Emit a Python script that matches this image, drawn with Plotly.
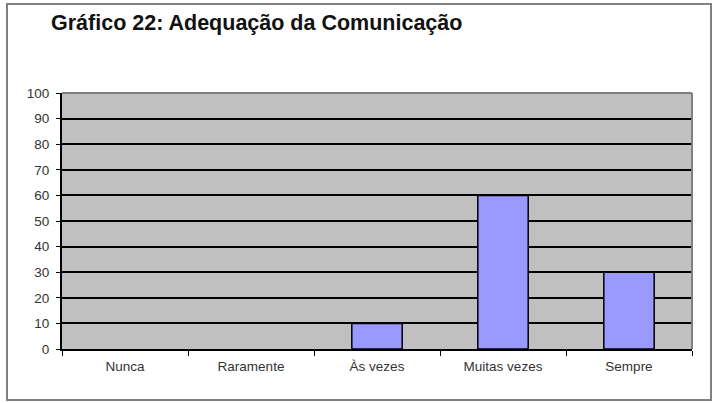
import plotly.graph_objects as go

categories = ["Nunca", "Raramente", "Às vezes", "Muitas vezes", "Sempre"]
values = [0, 0, 10, 60, 30]
y_ticks = [0, 10, 20, 30, 40, 50, 60, 70, 80, 90, 100]

W, H = 719, 403
L, R, T, B = 62, 692, 93, 349
pw, ph = R - L, B - T

fig = go.Figure()
fig.add_trace(go.Bar(
    x=categories, y=values,
    marker=dict(color="#9999FF",
                line=dict(color="#000000", width=[1.5 if v > 0 else 0 for v in values])),
    width=0.4,
))

def px_x(v):
    return (v - L) / pw

def px_y(v):
    return (B - v) / ph

fig.update_layout(
    width=W, height=H,
    margin=dict(l=L, r=W - R, t=T, b=H - B),
    paper_bgcolor="white",
    plot_bgcolor="#C0C0C0",
    showlegend=False,
    font=dict(family="Liberation Sans, Arial, sans-serif", size=13, color="#000000"),
    title=dict(
        text="<b>Gráfico 22: Adequação da Comunicação</b>",
        x=51 / W, xanchor="left", y=1 - 22 / H, yanchor="middle",
        font=dict(size=21.5, color="#111111"),
    ),
    xaxis=dict(
        type="category",
        showgrid=False,
        ticks="outside", tickson="boundaries", ticklen=5, tickcolor="#000000", tickwidth=1,
        showline=True, linecolor="#000000", linewidth=2,
        tickfont=dict(size=13.5, color="#333333"),
        ticklabelstandoff=4,
        range=[-0.5, 4.5],
    ),
    yaxis=dict(
        range=[0, 100], tickvals=y_ticks,
        showgrid=True, gridcolor="#000000", gridwidth=1.5,
        ticks="outside", ticklen=4, tickcolor="#000000",
        showline=True, linecolor="#000000", linewidth=2,
        tickfont=dict(size=13.5, color="#333333"),
        ticklabelstandoff=4,
        zeroline=False,
    ),
    shapes=[
        dict(type="line", xref="paper", yref="paper", x0=0, x1=1, y0=1, y1=1,
             line=dict(color="#808080", width=2), layer="above"),
        dict(type="line", xref="paper", yref="paper", x0=1, x1=1, y0=0, y1=1,
             line=dict(color="#808080", width=2), layer="above"),
        dict(type="rect", xref="paper", yref="paper",
             x0=px_x(7), x1=px_x(711), y0=px_y(400), y1=px_y(4),
             line=dict(color="#808080", width=2), fillcolor="rgba(0,0,0,0)", layer="below"),
    ],
)

fig.write_html("out.html")
